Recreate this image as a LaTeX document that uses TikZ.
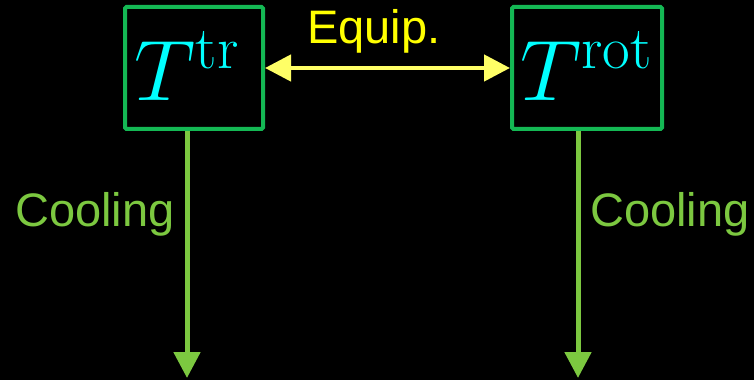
\RequirePackage{fix-cm}
\documentclass[tikz,border=0pt]{standalone}
\usepackage{fontspec}
\setsansfont{Liberation Sans}
\usetikzlibrary{arrows.meta}
\definecolor{boxgreen}{RGB}{20,184,84}
\definecolor{coolgreen}{RGB}{124,200,64}
\definecolor{eqyellow}{RGB}{255,255,102}
\definecolor{labyellow}{RGB}{255,255,0}
\definecolor{tcyan}{RGB}{0,255,255}
\tikzset{
  tempbox/.style={draw=boxgreen, line width=4pt, rounded corners=1.5pt, minimum height=122pt, inner sep=0pt},
  templab/.style={text=tcyan, inner sep=0pt, font=\fontsize{86}{100}\selectfont},
  coolarrow/.style={draw=coolgreen, line width=5pt, -{Triangle[length=26pt,width=26pt]}},
  eqarrow/.style={draw=eqyellow, line width=4.5pt, {Triangle[length=26pt,width=26pt]}-{Triangle[length=26pt,width=26pt]}},
  lab/.style={font=\sffamily\fontsize{47}{56}\selectfont, inner sep=0pt}
}
\begin{document}
\begin{tikzpicture}[x=1pt,y=1pt]
\fill[black] (0,0) rectangle (754,380);
\useasboundingbox (0,0) rectangle (754,380);
\node[tempbox, minimum width=138pt] (b1) at (194,312) {};
\node[tempbox, minimum width=150pt] (b2) at (587,312) {};
\node[templab] (t1) at (187,314) {$T^{\mathrm{tr}}$};
\node[templab] (t2) at (586,314) {$T^{\mathrm{rot}}$};
\coordinate (e1) at (187,2);
\coordinate (e2) at (578,2);
\draw[coolarrow] (b1.south -| e1) -- (e1);
\draw[coolarrow] (b2.south -| e2) -- (e2);
\draw[eqarrow] (b1.east) -- (b2.west);
\node[lab, text=labyellow] (eq) at (374,349) {Equip.};
\node[lab, text=coolgreen] (c1) at (95,166) {Cooling};
\node[lab, text=coolgreen] (c2) at (670,166) {Cooling};
\end{tikzpicture}
\end{document}
